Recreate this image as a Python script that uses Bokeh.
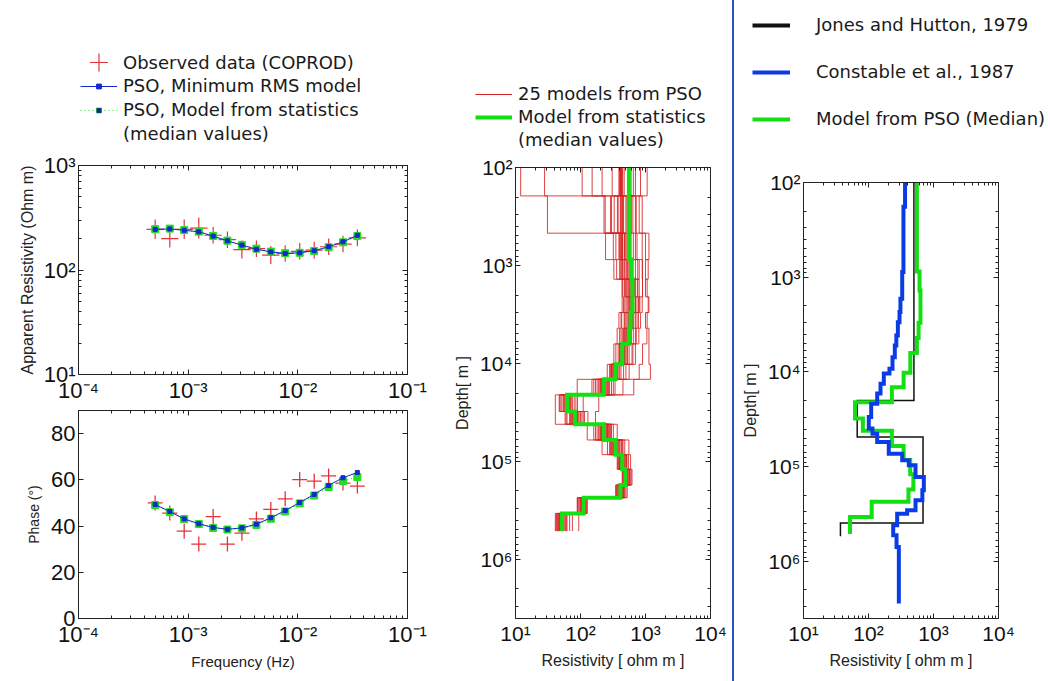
from bokeh.plotting import figure
from bokeh.models import Range1d, FixedTicker, LogAxis, LinearAxis, Legend, LegendItem, Div
from bokeh.layouts import row, column
from bokeh.embed import file_html
from bokeh.resources import INLINE

# ---------------- data ----------------
freq_hz = [5.0e-4, 6.8e-4, 9.2e-4, 1.25e-3, 1.69e-3, 2.28e-3, 3.09e-3, 4.19e-3,
           5.67e-3, 7.67e-3, 1.04e-2, 1.41e-2, 1.91e-2, 2.58e-2, 3.49e-2]
rho_obs = [245, 200, 245, 252, 215, 195, 157, 160, 139, 144, 151, 155, 167, 177, 203]
rho_err_pct = [24, 22, 24, 26, 20, 20, 22, 20, 22, 20, 20, 20, 20, 20, 20]
rho_min_rms = [245, 247, 240, 232, 211, 190, 173, 158, 149, 144, 146, 153, 167, 186, 215]
rho_stat = [246, 249, 241, 233, 212, 191, 174, 160, 150, 145, 146, 152, 165, 184, 211]
phase_obs = [50.0, 45.6, 37.8, 32.2, 44.1, 32.2, 36.9, 43.1, 47.2, 51.8, 60.1, 59.4, 61.7, 58.6, 57.3]
phase_min_rms = [49.3, 46.3, 43.1, 41.0, 39.4, 38.6, 39.2, 40.8, 43.6, 46.7, 50.2, 53.7, 57.6, 60.9, 63.2]
phase_stat = [49.1, 46.0, 43.0, 40.9, 39.2, 38.5, 39.0, 40.5, 43.2, 46.3, 49.8, 53.2, 56.9, 59.5, 61.2]

freq_ticks = [1e-4, 1e-3, 1e-2, 1e-1]
freq_tick_labels = ["10⁻⁴", "10⁻³", "10⁻²", "10⁻¹"]
rho_ticks = [10, 100, 1000]
rho_tick_labels = ["10¹", "10²", "10³"]
phase_ticks = [0, 20, 40, 60, 80]
phase_tick_labels = ["0", "20", "40", "60", "80"]
res_ticks = [10, 100, 1000, 10000]
res_tick_labels = ["10¹", "10²", "10³", "10⁴"]
depth_ticks = [100, 1000, 10000, 100000, 1000000]
depth_tick_labels = ["10²", "10³", "10⁴", "10⁵", "10⁶"]

# PSO layered models (shared layer boundaries, m)
pso_layer_bounds = [100, 195, 468, 871, 1380, 2090, 3020, 4370, 6310, 10200, 14500,
                    20900, 30900, 41700, 60300, 85100, 120000, 174000, 234000, 339000, 513000]
pso_median = [555, 555, 555, 610, 630, 630, 590, 555, 440, 347, 229, 62, 82, 229, 347,
              438, 490, 412, 112, 52]
pso_models = [
    [12, 31, 440, 520, 560, 620, 600, 560, 470, 340, 230, 60, 80, 230, 350, 440, 490, 410, 110, 50],
    [28, 230, 390, 470, 620, 650, 560, 520, 430, 300, 180, 55, 70, 200, 320, 420, 480, 400, 105, 48],
    [106, 290, 350, 400, 500, 560, 520, 480, 400, 280, 150, 48, 60, 180, 300, 400, 470, 390, 100, 45],
    [151, 240, 440, 560, 700, 740, 660, 600, 520, 380, 250, 65, 90, 250, 380, 460, 520, 430, 115, 55],
    [215, 370, 480, 600, 750, 700, 620, 560, 480, 360, 220, 70, 95, 260, 400, 480, 540, 440, 118, 58],
    [307, 440, 560, 700, 800, 780, 700, 650, 560, 420, 280, 75, 100, 270, 420, 500, 560, 460, 120, 62],
    [410, 700, 890, 900, 900, 890, 840, 790, 700, 560, 340, 90, 110, 300, 450, 520, 580, 480, 122, 68],
    [420, 890, 1000, 1100, 1000, 1100, 1000, 1050, 900, 800, 450, 110, 130, 320, 480, 550, 600, 500, 125, 75],
    [430, 420, 440, 440, 470, 470, 430, 420, 380, 300, 200, 58, 75, 210, 330, 410, 470, 380, 95, 44],
    [437, 450, 430, 420, 440, 460, 420, 400, 350, 290, 190, 52, 68, 190, 290, 390, 450, 370, 92, 42],
    [700, 600, 650, 760, 660, 620, 600, 560, 470, 330, 210, 62, 78, 220, 340, 430, 480, 410, 108, 50],
    [838, 720, 740, 890, 900, 800, 740, 700, 640, 500, 300, 80, 105, 280, 430, 510, 570, 470, 119, 60],
    [1060, 800, 1130, 1000, 1060, 1130, 1060, 1130, 1130, 1190, 660, 191, 170, 367, 555, 590, 620, 523, 127, 94],
    [410, 410, 243, 326, 437, 437, 390, 366, 326, 258, 89, 41, 41, 127, 215, 367, 438, 347, 89, 41],
    [415, 300, 320, 360, 520, 540, 500, 460, 420, 310, 170, 50, 62, 170, 280, 380, 460, 360, 98, 46],
    [425, 330, 400, 420, 560, 600, 580, 540, 450, 340, 240, 66, 85, 240, 360, 450, 500, 420, 112, 52],
    [445, 520, 600, 640, 640, 660, 620, 580, 500, 370, 260, 68, 88, 235, 370, 455, 510, 425, 113, 54],
    [555, 560, 520, 580, 620, 640, 600, 560, 480, 350, 230, 62, 82, 229, 347, 438, 490, 412, 112, 52],
    [560, 600, 580, 620, 680, 700, 640, 600, 530, 400, 270, 72, 92, 260, 390, 470, 530, 440, 116, 56],
    [600, 640, 700, 800, 760, 820, 780, 720, 620, 460, 320, 85, 115, 290, 440, 500, 560, 455, 118, 60],
    [650, 500, 480, 540, 600, 580, 560, 500, 440, 320, 200, 56, 72, 200, 310, 400, 460, 390, 102, 47],
    [412, 437, 410, 440, 480, 500, 470, 440, 400, 300, 160, 47, 58, 160, 260, 375, 445, 355, 90, 43],
    [400, 460, 470, 500, 540, 560, 540, 500, 460, 350, 215, 60, 76, 215, 335, 425, 485, 405, 106, 49],
    [390, 380, 420, 470, 500, 520, 480, 470, 420, 330, 205, 58, 74, 205, 325, 420, 478, 398, 104, 48],
    [470, 420, 500, 520, 580, 600, 560, 520, 450, 360, 240, 64, 86, 245, 355, 445, 495, 418, 114, 53],
]

# Jones and Hutton (1979)
jh_bounds = [100, 20000, 48600, 393000, 542000]
jh_rho = [500, 67, 690, 37]
# Constable et al. (1987)
cs_bounds = [100, 180, 880, 1690, 2330, 2980, 4110, 5250, 6970, 9230, 10400, 13300, 16900,
             21600, 29900, 39600, 44800, 54800, 72800, 85500, 96600, 128000, 177000, 226000,
             288000, 313000, 415000, 530000, 703000, 2780000]
cs_rho = [365, 345, 330, 310, 300, 283, 268, 254, 234, 210, 172, 153, 136, 110, 101, 115, 136,
          205, 330, 417, 529, 710, 674, 529, 393, 276, 240, 270, 293]

# ---------------- styles ----------------
RED = "#e3343c"
RED_M = "#d62424"
BLUE = "#1428d0"
GREEN = "#22dd22"
BGREEN = "#12e012"
BBLUE = "#0a3ce6"
AX = "#222222"
TFONT = "Liberation Sans"
LFONT = "DejaVu Sans"


def log_minors(majors, lo, hi):
    out = []
    for m in majors:
        for k in range(2, 10):
            v = m * k
            if lo < v < hi:
                out.append(v)
    return out


def step_path(bounds, vals):
    xs, ys = [], []
    for i, v in enumerate(vals):
        xs += [v, v]
        ys += [bounds[i], bounds[i + 1]]
    return xs, ys


def dress(p, xt, xmin, xlab, yt, ymin, ylab, xlog, ylog, fs,
          xlabel, ylabel, xls, yls, xlfs, ylfs):
    p.grid.visible = False
    p.outline_line_color = AX
    bottom = p.below[0]
    left = p.left[0]
    top = LogAxis() if xlog else LinearAxis()
    right = LogAxis() if ylog else LinearAxis()
    p.add_layout(top, "above")
    p.add_layout(right, "right")
    for ax in (bottom, top):
        ax.ticker = FixedTicker(ticks=xt, minor_ticks=xmin)
    for ax in (left, right):
        ax.ticker = FixedTicker(ticks=yt, minor_ticks=ymin)
    for ax in (bottom, top, left, right):
        ax.axis_line_color = AX
        ax.major_tick_line_color = AX
        ax.minor_tick_line_color = AX
        ax.major_tick_in = 5
        ax.major_tick_out = 0
        ax.minor_tick_in = 3
        ax.minor_tick_out = 0
        ax.major_label_text_font = TFONT
        ax.major_label_text_color = "#111111"
        ax.major_label_text_font_size = fs
        ax.major_label_standoff = 3
        ax.axis_label_text_font = TFONT
        ax.axis_label_text_font_style = "normal"
        ax.axis_label_text_color = "#222222"
    for ax in (top, right):
        ax.major_label_text_font_size = "2px"
        ax.major_label_text_color = None
        ax.major_label_standoff = 0
    bottom.major_label_overrides = dict(zip(xt, xlab))
    left.major_label_overrides = dict(zip(yt, ylab))
    bottom.axis_label = xlabel
    left.axis_label = ylabel
    bottom.axis_label_standoff = xls
    left.axis_label_standoff = yls
    bottom.axis_label_text_font_size = xlfs
    left.axis_label_text_font_size = ylfs


def blank(w, h):
    p = figure(width=w, height=h, x_range=Range1d(0, 1), y_range=Range1d(0, 1),
               x_axis_location=None, y_axis_location=None, min_border=0,
               toolbar_location=None, output_backend="svg")
    p.outline_line_color = None
    p.grid.visible = False
    try:
        p.frame_align = False
    except Exception:
        pass
    return p


def make_legend(items, loc, gw, standoff, spacing, gh=20):
    return Legend(items=items, location=loc, orientation="vertical", glyph_width=gw,
                  glyph_height=gh, label_height=20, label_standoff=standoff, spacing=spacing,
                  padding=0, margin=0, border_line_color=None, background_fill_alpha=0,
                  label_text_font=LFONT, label_text_font_size="18px",
                  label_text_color="#1a1a1a")


freq_minor = log_minors(freq_ticks, 1e-4, 1e-1)
rho_minor = log_minors(rho_ticks, 10, 1000)
res_minor = log_minors(res_ticks, 10, 10000)
depth_minor = log_minors(depth_ticks, 100, 4e6)

# ---------------- legend A ----------------
legA = blank(443, 150)
a1 = legA.scatter([0.5], [-5], marker="cross", size=19, line_color=RED, line_width=1.2)
a2 = legA.line([0.5, 0.6], [-5, -5], line_color=BLUE, line_width=1)
a2b = legA.scatter([0.5], [-5], marker="square", size=4, fill_color=BLUE, line_color=BLUE)
a3 = legA.line([0.5, 0.6], [-5, -5], line_color=GREEN, line_width=1.2, line_dash="1 3")
a3b = legA.scatter([0.5], [-5], marker="square", size=6, fill_color=GREEN, line_color=GREEN)
a3c = legA.scatter([0.5], [-5], marker="square", size=3, fill_color="#102a90", line_color=None)
a4 = legA.line([0.5, 0.6], [-5, -5], line_alpha=0)
legA.add_layout(make_legend([
    LegendItem(label="Observed data (COPROD)", renderers=[a1]),
], (76, 65), 45, 2, 0, gh=46))
legA.add_layout(make_legend([
    LegendItem(label="PSO, Minimum RMS model", renderers=[a2, a2b]),
    LegendItem(label="PSO, Model from statistics", renderers=[a3, a3b, a3c]),
    LegendItem(label="(median values)", renderers=[a4]),
], (80, 6), 37, 6, 3, gh=12))

# ---------------- apparent resistivity ----------------
p1 = figure(width=443, height=255, x_axis_type="log", y_axis_type="log",
            x_range=Range1d(1e-4, 1e-1), y_range=Range1d(10, 1000),
            min_border_left=78, min_border_right=36, min_border_top=15, min_border_bottom=30,
            toolbar_location=None, output_backend="svg")
dress(p1, freq_ticks, freq_minor, freq_tick_labels, rho_ticks, rho_minor, rho_tick_labels,
      True, True, "22px", None, "Apparent Resistivity (Ohm m)", 0, 5, "15px", "16px")
hx0 = [f / 1.2 for f in freq_hz]
hx1 = [f * 1.2 for f in freq_hz]
vy0 = [r / (1 + e / 100) for r, e in zip(rho_obs, rho_err_pct)]
vy1 = [r * (1 + e / 100) for r, e in zip(rho_obs, rho_err_pct)]
p1.segment(hx0, rho_obs, hx1, rho_obs, line_color=RED, line_width=1.2)
p1.segment(freq_hz, vy0, freq_hz, vy1, line_color=RED, line_width=1.2)
p1.line(freq_hz, rho_stat, line_color=GREEN, line_width=1.2, line_dash="1 3")
p1.scatter(freq_hz, rho_stat, marker="square", size=7, fill_color=GREEN, line_color=GREEN)
p1.line(freq_hz, rho_min_rms, line_color=BLUE, line_width=1)
p1.scatter(freq_hz, rho_min_rms, marker="square", size=4, fill_color=BLUE, line_color=BLUE)

# ---------------- phase ----------------
p2 = figure(width=443, height=276, x_axis_type="log",
            x_range=Range1d(1e-4, 1e-1), y_range=Range1d(0, 90),
            min_border_left=78, min_border_right=36, min_border_top=5, min_border_bottom=63,
            toolbar_location=None, output_backend="svg")
dress(p2, freq_ticks, freq_minor, freq_tick_labels, phase_ticks, [], phase_tick_labels,
      True, False, "22px", "Frequency (Hz)", "Phase (°)", 3, 6, "15px", "14px")
p2.scatter(freq_hz, phase_obs, marker="cross", size=15, line_color=RED, line_width=1.3)
p2.line(freq_hz, phase_stat, line_color=GREEN, line_width=1.2, line_dash="1 3")
p2.scatter(freq_hz, phase_stat, marker="square", size=7, fill_color=GREEN, line_color=GREEN)
p2.line(freq_hz, phase_min_rms, line_color=BLUE, line_width=1)
p2.scatter(freq_hz, phase_min_rms, marker="square", size=4, fill_color=BLUE, line_color=BLUE)

# ---------------- legend B ----------------
legB = blank(289, 152)
b1 = legB.line([0.5, 0.6], [-5, -5], line_color=RED_M, line_width=1)
b2 = legB.line([0.5, 0.6], [-5, -5], line_color=BGREEN, line_width=4)
b3 = legB.line([0.5, 0.6], [-5, -5], line_alpha=0)
legB.add_layout(make_legend([
    LegendItem(label="25 models from PSO", renderers=[b1]),
    LegendItem(label="Model from statistics", renderers=[b2]),
    LegendItem(label="(median values)", renderers=[b3]),
], (32, 2), 37, 6, 2))

# ---------------- PSO models ----------------
p3 = figure(width=289, height=529, x_axis_type="log", y_axis_type="log",
            x_range=Range1d(10, 10000), y_range=Range1d(4e6, 100),
            min_border_left=72, min_border_right=22, min_border_top=15, min_border_bottom=63,
            toolbar_location=None, output_backend="svg")
dress(p3, res_ticks, res_minor, res_tick_labels, depth_ticks, depth_minor, depth_tick_labels,
      True, True, "21px", "Resistivity [ ohm m ]", "Depth[ m ]", 4, 6, "16px", "16px")
mx, my = [], []
for m in pso_models:
    xs, ys = step_path(pso_layer_bounds, m)
    mx.append(xs)
    my.append(ys)
p3.multi_line(mx, my, line_color=RED_M, line_width=1, line_alpha=0.85)
gx, gy = step_path(pso_layer_bounds, pso_median)
p3.line(gx, gy, line_color=BGREEN, line_width=4, line_join="miter")

# ---------------- separator ----------------
sep = Div(text="", width=2, height=681, margin=(0, 0, 0, 0),
          styles={"background-color": "#2b4fc4"})

# ---------------- legend C ----------------
legC = blank(316, 167)
c1 = legC.line([0.5, 0.6], [-5, -5], line_color="#111111", line_width=4)
c2 = legC.line([0.5, 0.6], [-5, -5], line_color=BBLUE, line_width=4)
c3 = legC.line([0.5, 0.6], [-5, -5], line_color=BGREEN, line_width=4)
legC.add_layout(make_legend([
    LegendItem(label="Jones and Hutton, 1979", renderers=[c1]),
    LegendItem(label="Constable et al., 1987", renderers=[c2]),
    LegendItem(label="Model from PSO (Median)", renderers=[c3]),
], (18, 38), 38, 26, 26))

# ---------------- comparison ----------------
p4 = figure(width=316, height=514, x_axis_type="log", y_axis_type="log",
            x_range=Range1d(10, 10000), y_range=Range1d(4e6, 100),
            min_border_left=69, min_border_right=52, min_border_top=15, min_border_bottom=63,
            toolbar_location=None, output_backend="svg")
dress(p4, res_ticks, res_minor, res_tick_labels, depth_ticks, depth_minor, depth_tick_labels,
      True, True, "21px", "Resistivity [ ohm m ]", "Depth[ m ]", 4, 6, "16px", "16px")
jx, jy = step_path(jh_bounds, jh_rho)
p4.line(jx, jy, line_color="#111111", line_width=1.5, line_join="miter")
p4.line(gx, gy, line_color=BGREEN, line_width=4, line_join="miter")
cx, cy = step_path(cs_bounds, cs_rho)
p4.line(cx, cy, line_color=BBLUE, line_width=4, line_join="miter")

layout = row(
    column(legA, p1, p2, spacing=0),
    column(legB, p3, spacing=0),
    sep,
    column(legC, p4, spacing=0),
    spacing=0,
)

open("out.html", "w").write(file_html(layout, INLINE))
